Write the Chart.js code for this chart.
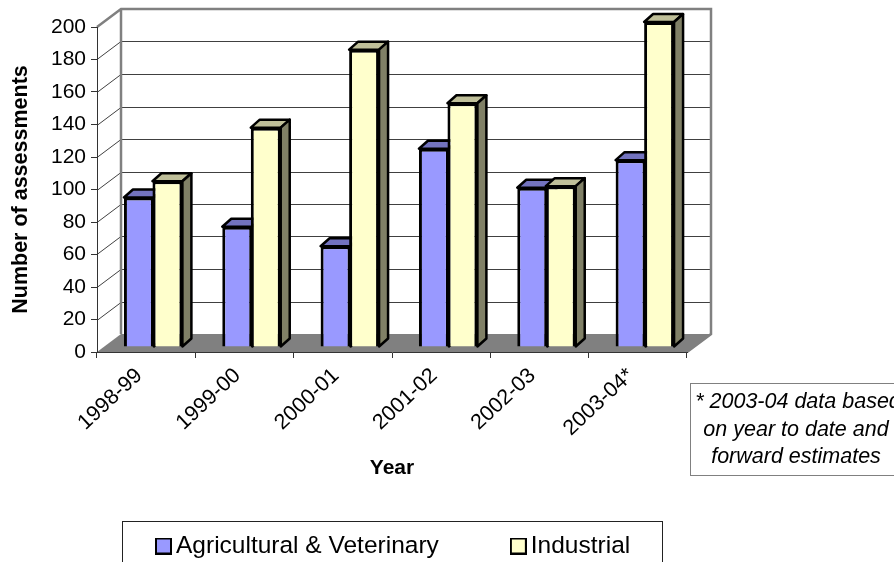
<!DOCTYPE html>
<html>
<head>
<meta charset="utf-8">
<script src="https://cdn.jsdelivr.net/npm/chart.js@4"></script>
<style>
  html, body { margin: 0; padding: 0; background: #fff; overflow: hidden; }
  canvas { display: block; }
</style>
</head>
<body>
<canvas id="chart" width="894" height="562"></canvas>
<script>
const years = ['1998-99', '1999-00', '2000-01', '2001-02', '2002-03', '2003-04*'];
const agricultural = [92, 74, 62, 122, 98, 115];
const industrial = [102, 135, 183, 150, 99, 200];
const noteLines = ['* 2003-04 data based', 'on year to date and', 'forward estimates'];

const FONT = '"Liberation Sans", Arial, sans-serif';

// little legend marker, wider than the box chart.js reserves so the text sits close to it
function swatch(fill) {
  const c = document.createElement('canvas');
  c.width = 17; c.height = 17;
  const g = c.getContext('2d');
  g.fillStyle = fill;
  g.strokeStyle = '#000';
  g.lineWidth = 2;
  g.fillRect(1, 1, 15, 15);
  g.strokeRect(1, 1, 15, 15);
  return c;
}

// depth of the walls and of the bars
const wall = { dx: 24, dy: -18 };
const barShift = { dx: 7, dy: -5 };
const barDepth = { dx: 9, dy: -8 };

function poly(ctx, pts, fill, stroke, width) {
  ctx.beginPath();
  pts.forEach((p, i) => i ? ctx.lineTo(p[0], p[1]) : ctx.moveTo(p[0], p[1]));
  ctx.closePath();
  if (fill) { ctx.fillStyle = fill; ctx.fill(); }
  if (stroke) { ctx.strokeStyle = stroke; ctx.lineWidth = width; ctx.lineJoin = 'round'; ctx.stroke(); }
}

const fake3d = {
  id: 'fake3d',
  afterLayout(chart) {
    // legend goes where the original has it, not centred under the canvas
    const lg = chart.legend;
    lg.left = 84; lg.right = 894; lg.top = 454.5; lg.bottom = 600;
  },
  beforeDraw(chart) {
    const { ctx, scales: { x, y } } = chart;
    const l = x.left, r = x.right, b = y.getPixelForValue(0), t = y.getPixelForValue(200);
    ctx.save();
    // floor
    poly(ctx, [[l, b], [r, b], [r + wall.dx, b + wall.dy], [l + wall.dx, b + wall.dy]], '#808080');
    // gridlines on the side and back walls
    ctx.strokeStyle = '#404040';
    ctx.lineWidth = 1;
    y.ticks.forEach(tk => {
      if (tk.value === 0 || tk.value === 200) return;
      const py = Math.round(y.getPixelForValue(tk.value)) + 0.5;
      ctx.beginPath();
      ctx.moveTo(l, py);
      ctx.lineTo(l + wall.dx, py + wall.dy);
      ctx.lineTo(r + wall.dx, py + wall.dy);
      ctx.stroke();
    });
    // wall frame
    ctx.strokeStyle = '#808080';
    ctx.lineWidth = 2.5;
    ctx.beginPath();
    ctx.moveTo(l, t);
    ctx.lineTo(l + wall.dx, t + wall.dy);
    ctx.lineTo(r + wall.dx, t + wall.dy);
    ctx.lineTo(r + wall.dx, b + wall.dy);
    ctx.lineTo(r, b);
    ctx.moveTo(l + wall.dx, t + wall.dy);
    ctx.lineTo(l + wall.dx, b + wall.dy);
    ctx.stroke();
    ctx.restore();
  },
  beforeDatasetsDraw(chart) {
    const { ctx } = chart;
    ctx.save();
    ctx.translate(barShift.dx, barShift.dy);
    chart.data.datasets.forEach((ds, i) => {
      chart.getDatasetMeta(i).data.forEach(bar => {
        const { x, y, base, width } = bar.getProps(['x', 'y', 'base', 'width'], true);
        const x0 = x - width / 2, x1 = x + width / 2, d = barDepth;
        poly(ctx, [[x0, y], [x1, y], [x1 + d.dx, y + d.dy], [x0 + d.dx, y + d.dy]], ds.topColor, '#000', 2.5);
        poly(ctx, [[x1, y], [x1 + d.dx, y + d.dy], [x1 + d.dx, base + d.dy], [x1, base]], ds.sideColor, '#000', 2.5);
      });
    });
    // bars themselves are drawn by chart.js right after this, still shifted
  },
  afterDatasetsDraw(chart) {
    chart.ctx.restore();
  },
  afterDraw(chart) {
    const { ctx } = chart;
    ctx.save();
    // legend frame, runs off the bottom of the page
    ctx.strokeStyle = '#222';
    ctx.lineWidth = 1;
    ctx.strokeRect(122.5, 521.5, 540, 60);
    // footnote box, runs off the right of the page
    ctx.strokeStyle = '#808080';
    ctx.strokeRect(690.5, 383.5, 260, 92);
    ctx.fillStyle = '#000';
    ctx.font = 'italic 21.5px ' + FONT;
    ctx.textAlign = 'center';
    ctx.textBaseline = 'alphabetic';
    noteLines.forEach((line, i) => ctx.fillText(line, i ? 796 : 798, 408 + i * 27.5));
    ctx.restore();
  }
};

new Chart(document.getElementById('chart'), {
  type: 'bar',
  data: {
    labels: years,
    datasets: [
      { label: 'Agricultural & Veterinary', data: agricultural, backgroundColor: '#9999ff', borderColor: '#000',
        borderWidth: 3, topColor: '#7373bf', sideColor: '#4d4d80', pointStyle: swatch('#9999ff') },
      { label: 'Industrial', data: industrial, backgroundColor: '#ffffcc', borderColor: '#000',
        borderWidth: 3, topColor: '#bfbf99', sideColor: '#808066', pointStyle: swatch('#ffffcc') }
    ]
  },
  options: {
    responsive: false,
    animation: false,
    layout: { padding: { left: 8, right: 207, top: 27, bottom: 80 } },
    datasets: { bar: { categoryPercentage: 0.58, barPercentage: 1.05, clip: false } },
    plugins: {
      tooltip: { enabled: false },
      legend: {
        position: 'bottom',
        align: 'start',
        maxHeight: 1,
        labels: { usePointStyle: true, pointStyleWidth: 0.5, padding: 79.25, color: '#000', font: { family: FONT, size: 24.5 } }
      }
    },
    scales: {
      x: {
        afterFit(s) { s.height = 129; },
        border: { color: '#333', width: 1 },
        grid: { offset: true, drawOnChartArea: false, tickLength: 6, tickColor: '#333' },
        ticks: { minRotation: 43, maxRotation: 43, labelOffset: -7, color: '#000', padding: 5, font: { family: FONT, size: 21.5 } },
        title: { display: true, text: 'Year', color: '#000', padding: 0, font: { family: FONT, size: 21, weight: 'bold' } }
      },
      y: {
        min: 0,
        max: 200,
        afterFit(s) { s.width = 89; },
        border: { color: '#333', width: 1 },
        grid: { drawOnChartArea: false, tickLength: 6, tickColor: '#333' },
        ticks: { stepSize: 20, color: '#000', padding: 5, font: { family: FONT, size: 21 } },
        title: { display: true, text: 'Number of assessments', color: '#000', padding: 0, font: { family: FONT, size: 21.5, weight: 'bold' } }
      }
    }
  },
  plugins: [fake3d]
});
</script>
</body>
</html>
